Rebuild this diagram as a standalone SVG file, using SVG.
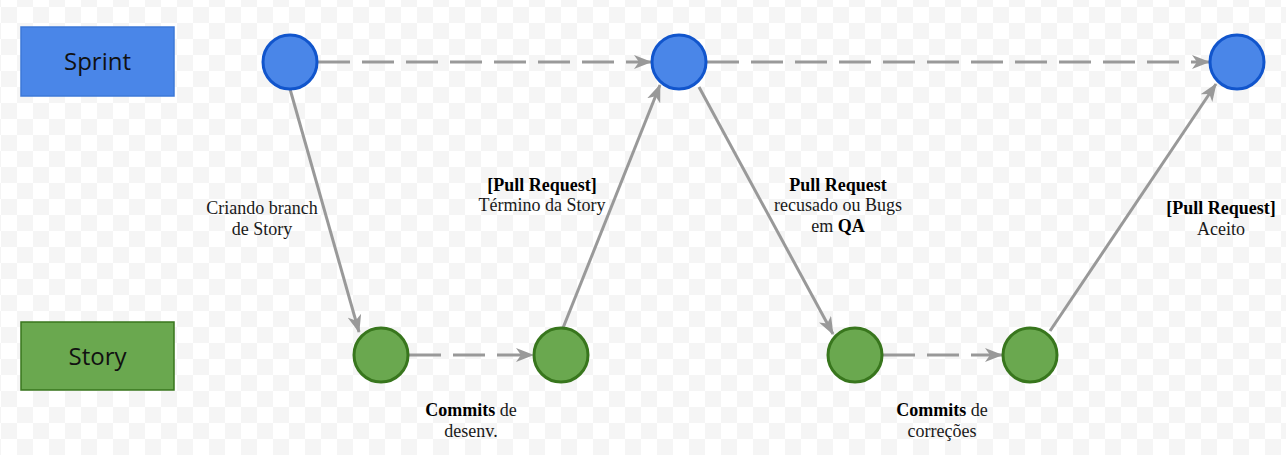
<svg xmlns="http://www.w3.org/2000/svg" width="1286" height="455" viewBox="0 0 1286 455">
<defs>
<pattern id="checker" x="1" y="7" width="32" height="32" patternUnits="userSpaceOnUse">
<rect width="32" height="32" fill="#ffffff"/>
<rect x="0" y="0" width="16" height="16" fill="#f5f5f5"/>
<rect x="16" y="16" width="16" height="16" fill="#f5f5f5"/>
</pattern>
<marker id="arrowL" markerWidth="18" markerHeight="14" refX="17" refY="7" orient="auto" markerUnits="userSpaceOnUse" viewBox="0 0 18 14">
<path d="M0,0 L18,7 L0,14 L5,7 Z" fill="#999999"/>
</marker>
</defs>
<style>
.lane-sprint{fill:#4a86e8;stroke:#3c78d8;stroke-width:1.5}
.lane-story{fill:#6aa84f;stroke:#38761d;stroke-width:1.5}
.lane-text{font-family:"Open Sans","Liberation Sans",sans-serif;font-size:24px;fill:#111111;text-anchor:middle}
.c-sprint{fill:#4a86e8;stroke:#1155cc;stroke-width:3}
.c-story{fill:#6aa84f;stroke:#38761d;stroke-width:3}
.edge{stroke:#999999;stroke-width:3;fill:none;marker-end:url(#arrowL)}
.dash{stroke-dasharray:32 12}
.lbl{font-family:"Liberation Serif","DejaVu Serif",serif;font-size:18px;fill:#1a1a1a;text-anchor:middle}
.b{font-weight:bold;fill:#000}
</style>
<rect width="1286" height="455" fill="url(#checker)"/>

<g id="lane-sprint"><rect class="lane-sprint" x="21" y="27" width="153" height="69"/><text class="lane-text" x="97.5" y="70">Sprint</text></g>
<g id="lane-story"><rect class="lane-story" x="21" y="322" width="153" height="68"/><text class="lane-text" x="97.5" y="365">Story</text></g>

<g id="connectors">
<line class="edge dash" x1="318" y1="62" x2="651" y2="62"/>
<line class="edge dash" x1="707" y1="62" x2="1209" y2="62"/>
<line class="edge" x1="290" y1="89" x2="359" y2="332"/>
<line class="edge" x1="563" y1="328" x2="660" y2="85"/>
<line class="edge" x1="699" y1="87" x2="833" y2="334"/>
<line class="edge" x1="1050" y1="331" x2="1216" y2="84"/>
<line class="edge dash" x1="409" y1="355" x2="533" y2="355"/>
<line class="edge dash" x1="883" y1="355" x2="1002" y2="355"/>
</g>

<g id="sprint-1"><circle class="c-sprint" cx="290" cy="62" r="27"/></g>
<g id="sprint-2"><circle class="c-sprint" cx="679" cy="62" r="27"/></g>
<g id="sprint-3"><circle class="c-sprint" cx="1237" cy="62" r="27"/></g>
<g id="story-1"><circle class="c-story" cx="381" cy="355" r="27"/></g>
<g id="story-2"><circle class="c-story" cx="561" cy="355" r="27"/></g>
<g id="story-3"><circle class="c-story" cx="855" cy="355" r="27"/></g>
<g id="story-4"><circle class="c-story" cx="1030" cy="355" r="27"/></g>

<g id="labels">
<text class="lbl" x="262" y="214">Criando branch</text>
<text class="lbl" x="262" y="235">de Story</text>
<text class="lbl b" x="542" y="191">[Pull Request]</text>
<text class="lbl" x="542" y="211">Término da Story</text>
<text class="lbl b" x="838" y="191">Pull Request</text>
<text class="lbl" x="838" y="211">recusado ou Bugs</text>
<text class="lbl" x="838" y="232">em <tspan class="b">QA</tspan></text>
<text class="lbl b" x="1221" y="214">[Pull Request]</text>
<text class="lbl" x="1221" y="235">Aceito</text>
<text class="lbl" x="471" y="416"><tspan class="b">Commits</tspan> de</text>
<text class="lbl" x="471" y="437">desenv.</text>
<text class="lbl" x="942" y="416"><tspan class="b">Commits</tspan> de</text>
<text class="lbl" x="942" y="437">correções</text>
</g>
</svg>
